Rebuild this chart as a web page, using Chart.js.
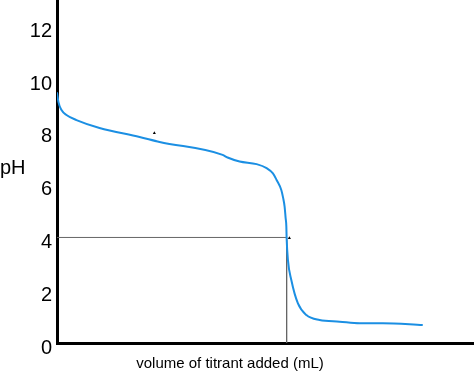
<!DOCTYPE html>
<html>
<head>
<meta charset="utf-8">
<script src="https://cdn.jsdelivr.net/npm/chart.js@4/dist/chart.umd.min.js"></script>
<style>
  html, body { margin: 0; padding: 0; background: #fff; }
  #wrap { position: relative; width: 474px; height: 375px; }
</style>
</head>
<body>
<div id="wrap"><canvas id="c" width="474" height="375"></canvas></div>
<script>
// Titration curve values (volume in mL, pH)
const volumes = [0, 0.16, 0.49, 1.03, 2.12, 4.63, 8.99, 11.17, 18.03, 18.57, 19.88, 21.73, 22.82, 23.51, 23.91, 24.42, 24.62, 24.78, 24.89, 24.97, 25.0, 25.14, 25.51, 26.23, 27.15, 28.59, 30.77, 32.95, 35.46, 39.82];
const phValues = [9.5, 9.13, 8.83, 8.64, 8.45, 8.15, 7.81, 7.62, 7.13, 7.03, 6.88, 6.78, 6.63, 6.43, 6.18, 5.80, 5.50, 5.17, 4.74, 4.41, 3.98, 3.15, 2.39, 1.50, 1.06, 0.87, 0.81, 0.75, 0.75, 0.68];
// Guide lines to the half-way point
const guideX = [0, 25, 25];
const guideY = [4, 4, 0];
// Small stray marks in the picture
const markX = [10.6, 25.3];
const markY = [7.96, 3.98];
const yTicks = [0, 2, 4, 6, 8, 10, 12];
const yLabel = 'pH';
const xLabel = 'volume of titrant added (mL)';

const curve = volumes.map((v, i) => ({ x: v, y: phValues[i] }));
const guide = guideX.map((v, i) => ({ x: v, y: guideY[i] }));
const marks = markX.map((v, i) => ({ x: v, y: markY[i] }));

const titlesPlugin = {
  id: 'titles',
  afterDraw(chart) {
    const ctx = chart.ctx;
    ctx.save();
    ctx.fillStyle = '#000';
    ctx.font = '20px "Liberation Sans", Arial, sans-serif';
    ctx.textAlign = 'left';
    ctx.textBaseline = 'middle';
    ctx.fillText(yLabel, 0, 168);
    ctx.font = '15px "Liberation Sans", Arial, sans-serif';
    ctx.textAlign = 'center';
    ctx.fillText(xLabel, 230, 364);
    ctx.restore();
  }
};

function zeroPad(scale) {
  scale.paddingTop = 0;
  scale.paddingBottom = 0;
  scale.paddingLeft = 0;
  scale.paddingRight = 0;
}

new Chart(document.getElementById('c'), {
  type: 'line',
  data: {
    datasets: [
      {
        data: curve,
        borderColor: '#1b8fe3',
        borderWidth: 2,
        pointRadius: 0,
        cubicInterpolationMode: 'monotone',
        fill: false,
        order: 0
      },
      {
        data: guide,
        borderColor: '#666666',
        borderWidth: 1,
        pointRadius: 0,
        tension: 0,
        fill: false,
        order: 1
      },
      {
        type: 'scatter',
        data: marks,
        pointStyle: 'triangle',
        pointRadius: 1.8,
        backgroundColor: '#000',
        borderColor: '#000',
        borderWidth: 0,
        order: 2
      }
    ]
  },
  options: {
    responsive: false,
    animation: false,
    layout: { padding: 0, autoPadding: false },
    plugins: { legend: { display: false }, tooltip: { enabled: false } },
    scales: {
      x: {
        type: 'linear',
        min: 0,
        max: 45.4,
        grid: { display: false, drawTicks: false },
        border: { display: true, color: '#000', width: 3 },
        ticks: { display: false },
        afterFit(scale) { scale.height = 32; zeroPad(scale); }
      },
      y: {
        min: 0,
        max: 13,
        afterBuildTicks(scale) { scale.ticks = yTicks.map(v => ({ value: v })); },
        grid: { display: false, drawTicks: false },
        border: { display: true, color: '#000', width: 3 },
        ticks: {
          color: '#000',
          padding: 5,
          labelOffset: 5,
          font: { family: '"Liberation Sans", Arial, sans-serif', size: 20 }
        },
        afterFit(scale) { scale.width = 57; zeroPad(scale); }
      }
    }
  },
  plugins: [titlesPlugin]
});
</script>
</body>
</html>
